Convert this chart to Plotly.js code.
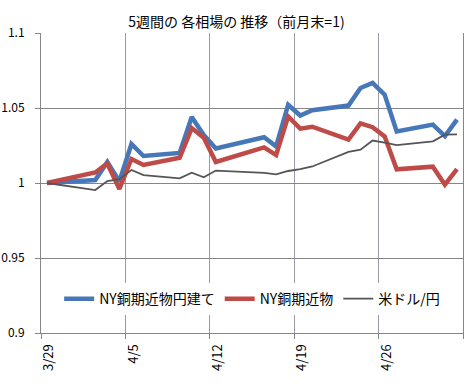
<!DOCTYPE html>
<html>
<head>
<meta charset="utf-8">
<script src="https://cdn.plot.ly/plotly-3.0.1.min.js"></script>
<style>html,body{margin:0;padding:0;background:#fff;}#chart{width:473px;height:386px;}</style>
</head>
<body>
<div id="chart"></div>
<script>
const dates = ['2012-03-29','2012-04-02','2012-04-03','2012-04-04','2012-04-05','2012-04-06',
  '2012-04-09','2012-04-10','2012-04-11','2012-04-12','2012-04-16','2012-04-17','2012-04-18',
  '2012-04-19','2012-04-20','2012-04-23','2012-04-24','2012-04-25','2012-04-26','2012-04-27',
  '2012-04-30','2012-05-01','2012-05-02'];
const copperYen = [1.000,1.002,1.014,1.001,1.026,1.018,1.020,1.044,1.032,1.023,1.0305,1.0244,1.0522,
  1.045,1.0485,1.0516,1.0633,1.0667,1.0589,1.0344,1.0389,1.0313,1.0422];
const copperUsd = [1.000,1.007,1.013,0.996,1.016,1.012,1.0168,1.0366,1.0302,1.0140,1.0237,1.0186,1.0444,
  1.0362,1.0375,1.0289,1.0397,1.0372,1.0311,1.0091,1.0109,0.9989,1.0093];
const usdJpy = [1.000,0.9953,1.0013,1.0025,1.0087,1.0052,1.0031,1.0069,1.0038,1.0083,1.0067,1.0057,1.008,
  1.0092,1.011,1.0207,1.0222,1.0283,1.0269,1.0253,1.0278,1.0322,1.0324];
const seriesNames = ['NY銅期近物円建て','NY銅期近物','米ドル/円'];
const xTickDates = ['2012-03-29','2012-04-05','2012-04-12','2012-04-19','2012-04-26','2012-05-03'];
const xTickLabels = ['3/29','4/5','4/12','4/19','4/26',''];
const yTickVals = [0.9,0.95,1,1.05,1.1];
const yTickLabels = ['0.9','0.95','1','1.05','1.1'];
const titleText = '5週間の 各相場の 推移（前月末=1)';

function halfDayBefore(d){
  const t = new Date(d + 'T00:00:00Z').getTime() - 12*3600*1000;
  const s = new Date(t).toISOString();
  return s.slice(0,10) + ' ' + s.slice(11,16);
}
const xTickVals = xTickDates.map(halfDayBefore);
const xRange = [halfDayBefore(xTickDates[0]), halfDayBefore(xTickDates[xTickDates.length-1])];

const font = "'Noto Sans CJK JP', 'Noto Sans', sans-serif";
const traces = [
  {x: dates, y: copperYen, name: seriesNames[0], type: 'scatter', mode: 'lines',
   line: {color: '#4677b8', width: 4.5}},
  {x: dates, y: copperUsd, name: seriesNames[1], type: 'scatter', mode: 'lines',
   line: {color: '#be4b48', width: 4.5}},
  {x: dates, y: usdJpy, name: seriesNames[2], type: 'scatter', mode: 'lines',
   line: {color: '#555555', width: 1.8}}
];
const layout = {
  width: 473, height: 386,
  margin: {l: 41, r: 10, t: 33, b: 53, pad: 0},
  paper_bgcolor: '#ffffff', plot_bgcolor: '#ffffff',
  font: {family: font, size: 13, color: '#000000'},
  title: {text: titleText, font: {family: font, size: 14, color: '#000'}, x: 0.5, xanchor: 'center', y: 0.944, yanchor: 'middle'},
  showlegend: true,
  legend: {orientation: 'h', x: 0.043, xanchor: 'left', y: 0.113, yanchor: 'middle',
    bgcolor: '#ffffff', font: {family: font, size: 14, color: '#000'}, tracegroupgap: 0, itemwidth: 30},
  xaxis: {type: 'date', range: xRange, tickmode: 'array', tickvals: xTickVals, ticktext: xTickLabels,
    tickangle: -90, ticks: 'outside', ticklen: 5, tickcolor: '#868686', ticklabelshift: 8,
    showgrid: true, gridcolor: '#9b98a8', gridwidth: 1, showline: true, linecolor: '#868686', linewidth: 1,
    zeroline: false, tickfont: {family: font, size: 13, color: '#000'}, fixedrange: true},
  yaxis: {range: [0.9, 1.1], tickmode: 'array', tickvals: yTickVals, ticktext: yTickLabels,
    ticks: 'outside', ticklen: 5, tickcolor: '#868686', ticklabelstandoff: 8,
    showgrid: true, gridcolor: '#868686', gridwidth: 1, showline: true, mirror: true, linecolor: '#868686', linewidth: 1,
    zeroline: false, tickfont: {family: font, size: 12, color: '#000'}, fixedrange: true}
};
Plotly.newPlot('chart', traces, layout, {displayModeBar: false, staticPlot: true});
</script>
</body>
</html>
